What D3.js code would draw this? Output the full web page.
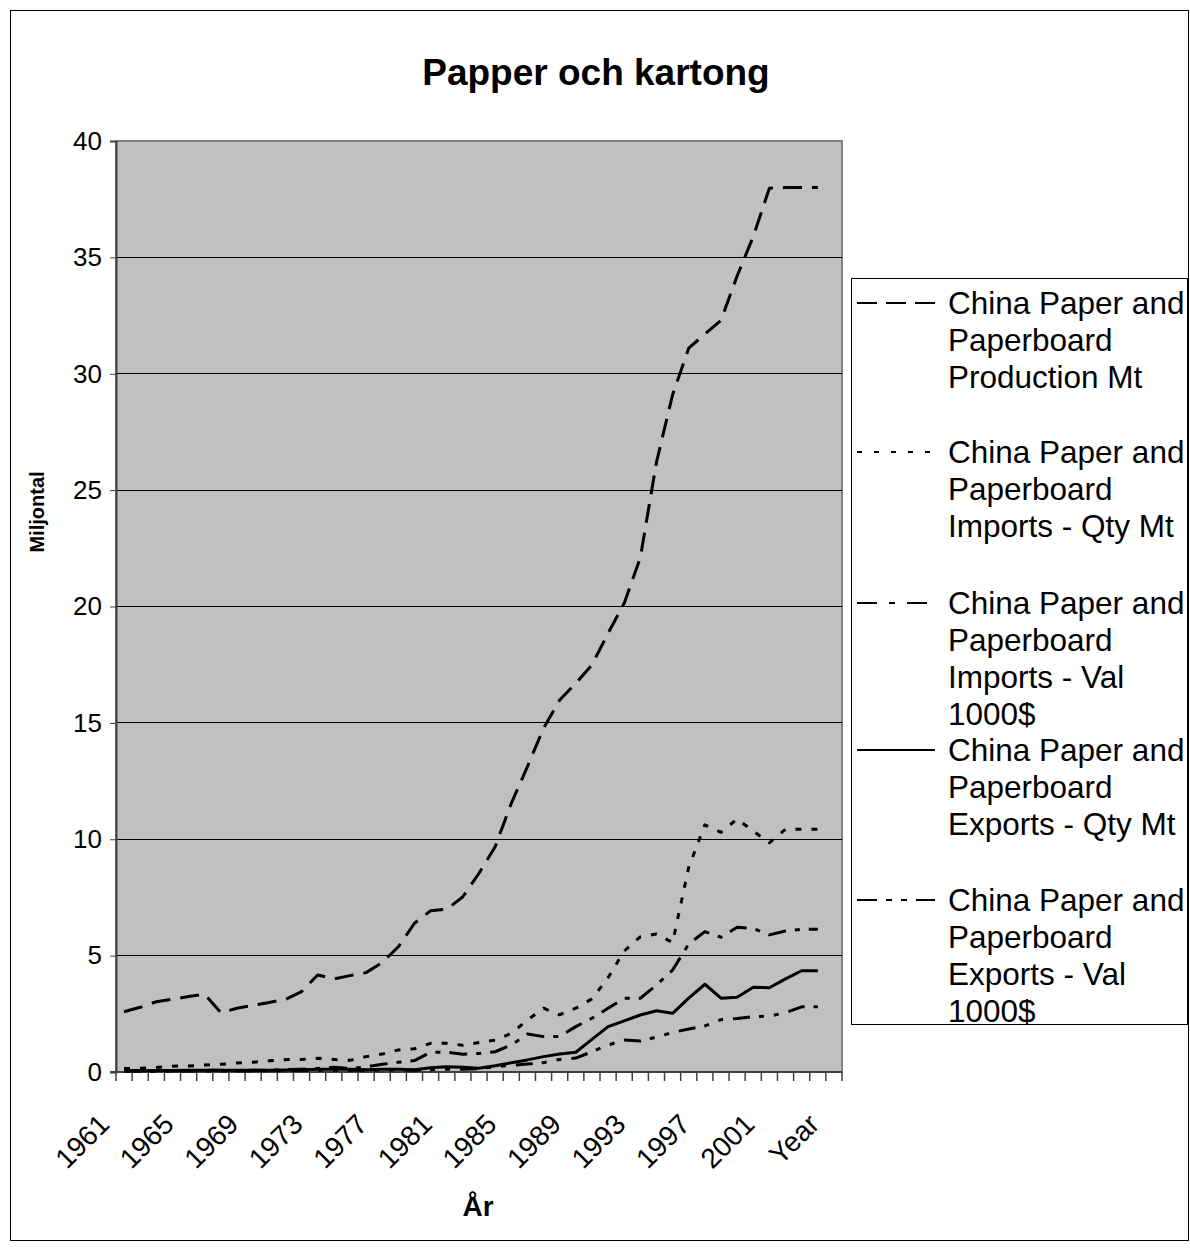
<!DOCTYPE html>
<html>
<head>
<meta charset="utf-8">
<script src="https://cdn.jsdelivr.net/npm/d3@7/dist/d3.min.js"></script>
<style>
  html, body { margin: 0; padding: 0; background: #ffffff; }
  svg { display: block; }
  text { font-family: "Liberation Sans", Arial, sans-serif; fill: #000; }
</style>
</head>
<body>
<svg id="chart" width="1190" height="1251"></svg>
<script>
const categories = ["1961","1962","1963","1964","1965","1966","1967","1968","1969","1970",
  "1971","1972","1973","1974","1975","1976","1977","1978","1979","1980",
  "1981","1982","1983","1984","1985","1986","1987","1988","1989","1990",
  "1991","1992","1993","1994","1995","1996","1997","1998","1999","2000",
  "2001","2002","2003","2004","Year"];
const tickLabels = ["1961","1965","1969","1973","1977","1981","1985","1989","1993","1997","2001","Year"];
const yTicks = [0,5,10,15,20,25,30,35,40];

const production = [2.59,2.78,3.02,3.13,3.24,3.34,2.55,2.74,2.86,2.99,
  3.12,3.45,4.17,4.00,4.14,4.27,4.70,5.38,6.39,6.93,
  6.99,7.53,8.54,9.68,11.54,13.12,14.77,15.98,16.70,17.49,
  18.85,20.14,22.10,26.2,29.1,31.1,31.7,32.3,34.2,35.9,
  37.97,38.0,38.0,38.0];
const importsQty = [0.15,0.16,0.19,0.25,0.26,0.30,0.33,0.39,0.42,0.48,
  0.53,0.54,0.59,0.54,0.50,0.66,0.77,0.95,1.0,1.23,
  1.23,1.15,1.27,1.37,1.66,2.23,2.74,2.46,2.74,3.14,
  4.05,5.2,5.81,5.93,5.56,8.8,10.62,10.3,10.87,10.35,
  9.85,10.43,10.43,10.43];
const importsVal = [0.06,0.06,0.05,0.05,0.06,0.07,0.07,0.06,0.07,0.08,
  0.10,0.12,0.15,0.20,0.15,0.22,0.33,0.42,0.49,0.85,
  0.85,0.76,0.80,0.87,1.16,1.63,1.52,1.53,1.95,2.31,
  2.74,3.17,3.17,3.74,4.38,5.5,6.03,5.79,6.22,6.17,
  5.89,6.06,6.13,6.13];
const exportsQty = [0.05,0.05,0.06,0.06,0.07,0.07,0.07,0.07,0.08,0.08,
  0.09,0.10,0.12,0.12,0.12,0.10,0.12,0.12,0.10,0.18,
  0.23,0.20,0.16,0.27,0.40,0.52,0.66,0.77,0.85,1.40,
  1.95,2.20,2.45,2.63,2.52,3.17,3.77,3.17,3.21,3.64,
  3.62,4.00,4.35,4.35];
const exportsVal = [0.03,0.03,0.03,0.04,0.04,0.04,0.04,0.04,0.05,0.05,
  0.06,0.07,0.08,0.08,0.07,0.07,0.08,0.09,0.08,0.10,
  0.12,0.12,0.14,0.23,0.29,0.34,0.40,0.54,0.60,0.87,
  1.16,1.37,1.33,1.50,1.70,1.85,1.98,2.25,2.30,2.38,
  2.40,2.55,2.80,2.80];

const seriesNames = [
  ["China Paper and","Paperboard","Production Mt"],
  ["China Paper and","Paperboard","Imports - Qty Mt"],
  ["China Paper and","Paperboard","Imports - Val","1000$"],
  ["China Paper and","Paperboard","Exports - Qty Mt"],
  ["China Paper and","Paperboard","Exports - Val","1000$"]
];
const seriesData = [production, importsQty, importsVal, exportsQty, exportsVal];
const dashes = ["19,10", "6,10", "18,9,5,9", null, "17,9,5,10,5,10"];
const legendDashes = ["20,9", "5,12", "20,12,6,12", null, "20,9,6,9,6,9"];

const svg = d3.select("#chart");
const L = 116, R = 842, T = 141, B = 1072;

// outer border
svg.append("rect").attr("x",10.5).attr("y",10.5).attr("width",1178).attr("height",1230)
  .attr("fill","#fff").attr("stroke","#000").attr("stroke-width",1);

svg.append("text").attr("x",596).attr("y",85).attr("text-anchor","middle")
  .attr("font-size",37).attr("font-weight","bold").text("Papper och kartong");

const x = d3.scaleBand().domain(categories).range([L, R]).paddingInner(0).paddingOuter(0);
const y = d3.scaleLinear().domain([0,40]).range([B, T]);
const cx = c => x(c) + x.bandwidth()/2;

// plot background
svg.append("rect").attr("x",L).attr("y",T).attr("width",R-L).attr("height",B-T)
  .attr("fill","#c0c0c0").attr("stroke","#808080").attr("stroke-width",2);

// gridlines
svg.append("g").selectAll("line").data(yTicks.filter(d=>d>0&&d<40)).join("line")
  .attr("x1",L).attr("x2",R).attr("y1",d=>y(d)).attr("y2",d=>y(d))
  .attr("stroke","#000").attr("stroke-width",1).attr("shape-rendering","crispEdges");

// y axis
const yAxis = svg.append("g").attr("transform",`translate(${L},0)`)
  .call(d3.axisLeft(y).tickValues(yTicks).tickSize(6).tickPadding(8).tickFormat(d3.format("d")));
yAxis.select(".domain").attr("stroke","#404040").attr("stroke-width",2);
yAxis.selectAll(".tick line").attr("stroke","#404040");
yAxis.selectAll("text").attr("font-size",26).attr("font-family","Liberation Sans, Arial, sans-serif").attr("fill","#000");

// x axis line and ticks
svg.append("line").attr("x1",L-6).attr("x2",R).attr("y1",B).attr("y2",B)
  .attr("stroke","#404040").attr("stroke-width",2);
const bounds = categories.map(c => x(c)).concat([R]);
svg.append("g").selectAll("line").data(bounds).join("line")
  .attr("x1",d=>d).attr("x2",d=>d).attr("y1",B).attr("y2",B+9)
  .attr("stroke","#404040").attr("stroke-width",1.5);

svg.append("g").selectAll("text").data(tickLabels).join("text")
  .attr("transform", d => `translate(${cx(d)-20},${B+47}) rotate(-45)`)
  .attr("text-anchor","end").attr("dy","0.35em")
  .attr("font-size",28).text(d=>d);

// axis titles
svg.append("text").attr("transform",`translate(44,512) rotate(-90)`)
  .attr("text-anchor","middle").attr("font-size",20).attr("font-weight","bold").text("Miljontal");
svg.append("text").attr("x",478).attr("y",1216).attr("text-anchor","middle")
  .attr("font-size",28).attr("font-weight","bold").text("År");

// lines
const line = d3.line().x((d,i)=>cx(categories[i])).y(d=>y(d));
svg.append("g").selectAll("path").data(seriesData).join("path")
  .attr("d", d=>line(d)).attr("fill","none").attr("stroke","#000").attr("stroke-width",3)
  .attr("stroke-dasharray",(d,i)=>dashes[i]).attr("stroke-linejoin","round");

// legend
svg.append("rect").attr("x",851.5).attr("y",278.5).attr("width",336).attr("height",746)
  .attr("fill","#fff").attr("stroke","#000").attr("stroke-width",1);
const entryY = [303, 452, 603, 750, 900];
const lg = svg.append("g").selectAll("g").data(seriesNames).join("g")
  .attr("transform",(d,i)=>`translate(0,${entryY[i]})`);
lg.append("line").attr("x1",857).attr("x2",935).attr("y1",0).attr("y2",0)
  .attr("stroke","#000").attr("stroke-width",2).attr("stroke-dasharray",(d,i)=>legendDashes[i]);
lg.each(function(d){
  const g = d3.select(this);
  d.forEach((t,j)=>{
    g.append("text").attr("x",948).attr("y",j*37).attr("dy","0.35em")
      .attr("font-size",31.5).text(t);
  });
});
</script>
</body>
</html>
